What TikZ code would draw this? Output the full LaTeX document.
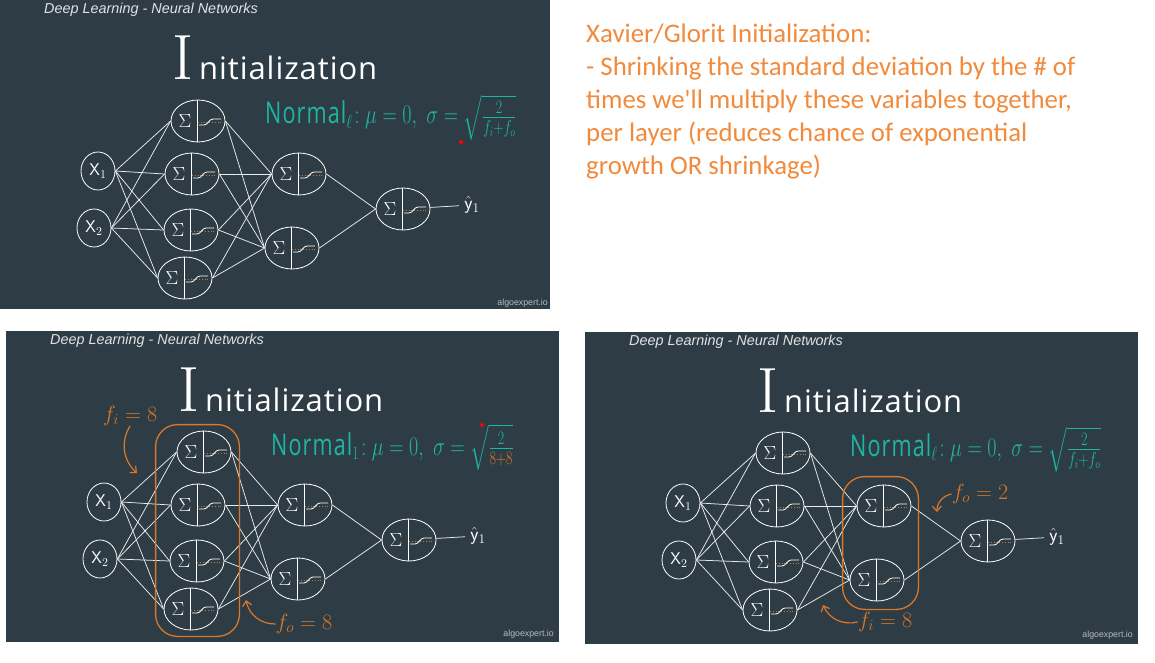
\documentclass[tikz,border=0pt]{standalone}
\usepackage{fix-cm}
\usepackage{amsmath}
\usepackage{fontspec}
\usepackage{xcolor}
\usepackage{graphicx}
\usepackage{tikz}
\usetikzlibrary{arrows.meta, shapes.geometric, fit}

\newfontfamily\notefont{Carlito}
\newfontfamily\headfont{Liberation Sans}
\newfontfamily\handfont[LetterSpace=5]{Open Sans}
\newfontfamily\titlefont[LetterSpace=3]{Open Sans}

\definecolor{panelbg}{HTML}{2E3D45}
\definecolor{chalkteal}{HTML}{1FB5A3}
\definecolor{chalkorange}{HTML}{D9772B}
\definecolor{noteorange}{HTML}{F28A3C}
\definecolor{sigdot}{HTML}{C87A34}

\tikzset{
  header/.style={inner sep=0pt, text=white!85!panelbg, font=\headfont\itshape\fontsize{14.4}{16}\selectfont},
  title/.style={inner sep=0pt, text=white},
  inode/.style={ellipse, draw=white, line width=0.8pt, minimum width=34pt, minimum height=38pt, inner sep=0pt, text=white, font=\fontsize{17}{17}\selectfont},
  outlabel/.style={inner sep=5pt, text=white, font=\fontsize{19}{19}\selectfont},
  neuron/.style={ellipse, draw=white, line width=0.8pt, minimum width=54pt, minimum height=42pt, inner sep=0pt,
    path picture={
      \draw[white, line width=0.8pt] ([xshift=-1pt]path picture bounding box.north) -- ([xshift=-1pt]path picture bounding box.south);
      \draw[sigdot, dotted, line width=0.8pt] ([xshift=0pt,yshift=-1pt]path picture bounding box.center) -- ++(24pt,0pt);
      \draw[white, line width=0.8pt] ([xshift=1pt,yshift=-4pt]path picture bounding box.center) -- ++(5pt,0pt) .. controls +(4pt,0pt) and +(-4pt,0pt) .. ++(9pt,6pt) -- ++(8pt,0pt);
      \node[text=white, inner sep=0pt, font=\fontsize{19}{19}\selectfont] at ([xshift=-13pt]path picture bounding box.center) {$\Sigma$};
    }},
  wire/.style={white!90!panelbg, line width=0.75pt},
  formula/.style={inner sep=0pt, text=chalkteal, font=\fontsize{27}{27}\selectfont},
  watermark/.style={inner sep=0pt, text=white!65!panelbg, font=\headfont\fontsize{8.8}{10}\selectfont},
  hilite/.style={draw=chalkorange, line width=1.3pt, rounded corners=22pt, inner xsep=8pt, inner ysep=6pt},
  annot/.style={inner sep=0pt, text=chalkorange, font=\fontsize{22}{22}\selectfont},
  annot arrow/.style={draw=chalkorange, line width=1.2pt, -{Straight Barb[length=5pt,width=9pt]}},
  notes/.style={inner sep=0pt, align=left, text=noteorange, font=\notefont\fontsize{26.8}{33}\selectfont},
  laser/.style={fill=red, draw=none},
}

\newcommand{\netpanel}[5]{%
  \fill[panelbg] (0,0) rectangle (#4,#5);
  \node[header, anchor=west] (#1head) at (44,10) {Deep Learning - Neural Networks};
  \node[title, anchor=base west] (#1title) at (172,80) {{\rmfamily\fontsize{64}{64}\selectfont I}\hspace{6pt}{\titlefont\fontsize{31}{31}\selectfont nitialization}};
  \node[inode] (#1x1) at (98,171) {$\mathsf{X}_1$};
  \node[inode] (#1x2) at (94,228) {$\mathsf{X}_2$};
  \node[neuron] (#1h1) at (198,121) {};
  \node[neuron] (#1h2) at (192,174) {};
  \node[neuron] (#1h3) at (191,230) {};
  \node[neuron] (#1h4) at (185,278) {};
  \node[neuron] (#1g1) at (299,174) {};
  \node[neuron] (#1g2) at (292,248) {};
  \node[neuron] (#1o) at (403,209) {};
  \node[outlabel] (#1yhat) at (472,205) {$\hat{\mathsf{y}}_1$};
  \foreach \i in {1,2} \foreach \j in {1,...,4} \draw[wire] (#1x\i.east) -- (#1h\j.west);
  \foreach \j in {1,...,4} \foreach \k in {1,2} \draw[wire] (#1h\j.east) -- (#1g\k.west);
  \foreach \k in {1,2} \draw[wire] (#1g\k.east) -- (#1o.west);
  \draw[wire] (#1o) -- (#1yhat);
  \node[formula, anchor=base west] (#1norm) at (265,124) {{\handfont\fontsize{30}{30}\selectfont\scalebox{0.72}[1]{Normal}}\scalebox{0.74}[1]{${}_{#2}\!:\mu=0,\ \sigma=\sqrt{\frac{2}{#3}}$}};
  \node[watermark, anchor=east] (#1logo) at (548,303) {algoexpert.io};
}

\begin{document}
\begin{tikzpicture}[x=1pt, y=-1pt]
\fill[white] (0,0) rectangle (1155,663);
\useasboundingbox (0,0) rectangle (1155,663);

\begin{scope}
  \netpanel{a}{\ell}{f_i+f_o}{550}{309}
  \fill[laser] (461,142) circle (2pt);
\end{scope}

\node[notes, anchor=north west] (notes) at (586,24) {Xavier/Glorit Initialization:\\- Shrinking the standard deviation by the \# of\\times we'll multiply these variables together,\\per layer (reduces chance of exponential\\growth OR shrinkage)};

\begin{scope}[shift={(6,331)}]
  \netpanel{b}{1}{\textcolor{chalkorange}{8+8}}{553}{311}
  \fill[laser] (476,94) circle (2pt);
  \node[hilite, fit=(bh1)(bh4)] (bbox) {};
  \node[annot] (bfi) at (124,85) {$f_i=8$};
  \coordinate (bfitip) at (131,142);
  \draw[annot arrow] (bfi.south) to[bend right=40] (bfitip);
  \node[annot] (bfo) at (298,293) {$f_o=8$};
  \coordinate (bfotip) at (240,269);
  \draw[annot arrow] (bfo.west) to[bend left=40] (bfotip);
\end{scope}

\begin{scope}[shift={(585,332)}]
  \netpanel{c}{\ell}{f_i+f_o}{553}{312}
  \node[hilite, fit=(cg1)(cg2), inner xsep=7pt, inner ysep=8pt] (cbox) {};
  \node[annot] (cfo) at (395,162) {$f_o=2$};
  \coordinate (cfotip) at (352,180);
  \draw[annot arrow] (cfo.west) to[bend right=40] (cfotip);
  \node[annot] (cfi) at (300,290) {$f_i=8$};
  \coordinate (cfitip) at (238,273);
  \draw[annot arrow] (cfi.west) to[bend left=40] (cfitip);
\end{scope}
\end{tikzpicture}
\end{document}
